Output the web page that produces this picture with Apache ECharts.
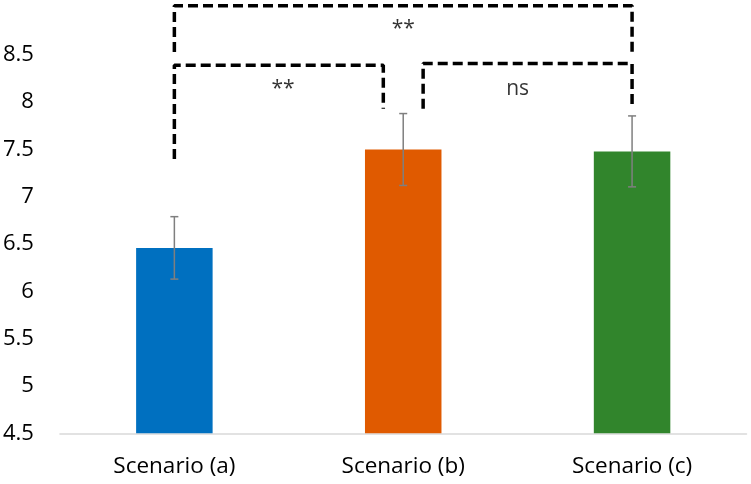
<!DOCTYPE html>
<html>
<head>
<meta charset="utf-8">
<script src="https://cdn.jsdelivr.net/npm/echarts@6/dist/echarts.min.js"></script>
<style>
html,body{margin:0;padding:0;background:#fff;}
#chart{width:751px;height:484px;}
</style>
</head>
<body>
<div id="chart"></div>
<script>
// ---- data ----
const categories = ['Scenario (a)', 'Scenario (b)', 'Scenario (c)'];
const means = [6.46, 7.50, 7.48];
const errors = [0.33, 0.38, 0.375];
const barColors = ['#0070C0', '#E05A00', '#31852C'];

// significance brackets (x in category index units, y in value units)
const bracketOuter = [[0, 8.53], [0, 9.02], [2, 9.02], [2, 8.53]];
const bracketAB = [[0, 7.40], [0, 8.39], [0.913, 8.39], [0.913, 7.93]];
const bracketBC = [[1.087, 7.93], [1.087, 8.41], [2, 8.41], [2, 7.95]];
const sigLabels = [
  { value: [1.0, 8.77], text: '**' },
  { value: [0.475, 8.14], text: '**' },
  { value: [1.50, 8.14], text: 'ns' }
];

const FONT = 'Open Sans';
const chart = echarts.init(document.getElementById('chart'), null, { renderer: 'canvas' });

const bracketStyle = { color: '#000', width: 3.5, type: [10, 5] };
function bracketSeries(pts) {
  return {
    type: 'line', xAxisIndex: 1, yAxisIndex: 0, data: pts,
    symbol: 'none', clip: false, silent: true, z: 5,
    lineStyle: bracketStyle
  };
}

chart.setOption({
  animation: false,
  grid: { left: 59, right: 4.5, top: 7.6, bottom: 50.7, containLabel: false },
  xAxis: [
    {
      type: 'category', data: categories,
      axisLine: { show: true, lineStyle: { color: '#D9D9D9', width: 1.5 } },
      axisTick: { show: false },
      axisLabel: { fontFamily: FONT, fontSize: 22.5, color: '#000', margin: 22 }
    },
    { type: 'value', min: -0.5, max: 2.5, show: false }
  ],
  yAxis: {
    type: 'value', min: 4.5, max: 9, interval: 0.5,
    axisLine: { show: false }, axisTick: { show: false }, splitLine: { show: false },
    axisLabel: {
      fontFamily: FONT, fontSize: 22, color: '#000', margin: 26,
      formatter: v => (v >= 9 ? '' : String(v))
    }
  },
  series: [
    {
      type: 'bar', barWidth: 76.5,
      data: means.map((v, i) => ({ value: v, itemStyle: { color: barColors[i] } }))
    },
    {
      type: 'custom', z: 4,
      data: means.map((m, i) => [i, m - errors[i], m + errors[i]]),
      renderItem: function (params, api) {
        const x = api.value(0);
        const lo = api.coord([x, api.value(1)]);
        const hi = api.coord([x, api.value(2)]);
        const cw = 4;
        const st = { stroke: '#7F7F7F', lineWidth: 1.5 };
        return {
          type: 'group', children: [
            { type: 'line', shape: { x1: lo[0], y1: lo[1], x2: hi[0], y2: hi[1] }, style: st },
            { type: 'line', shape: { x1: hi[0] - cw, y1: hi[1], x2: hi[0] + cw, y2: hi[1] }, style: st },
            { type: 'line', shape: { x1: lo[0] - cw, y1: lo[1], x2: lo[0] + cw, y2: lo[1] }, style: st }
          ]
        };
      }
    },
    bracketSeries(bracketOuter),
    bracketSeries(bracketAB),
    bracketSeries(bracketBC),
    {
      type: 'scatter', xAxisIndex: 1, yAxisIndex: 0, symbolSize: 0, silent: true, clip: false,
      data: sigLabels.map(d => ({ value: d.value, name: d.text })),
      label: {
        show: true, position: 'inside', formatter: p => p.name,
        fontFamily: FONT, fontSize: 21, color: '#000'
      }
    }
  ]
});
</script>
</body>
</html>
